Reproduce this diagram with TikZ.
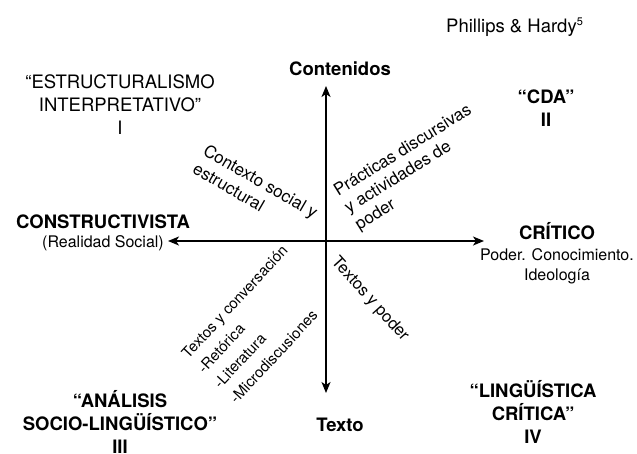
\documentclass[tikz,border=0pt]{standalone}
\usepackage{fontspec}
\setmainfont{TeX Gyre Heros}
\usetikzlibrary{arrows.meta}
\begin{document}
\begin{tikzpicture}[x=1pt,y=-1pt,
  axis/.style={line width=1.8pt,-{Stealth[length=11pt,width=9pt,inset=3pt]}},
  headb/.style={font=\fontsize{18.5}{23}\selectfont\bfseries,align=center,inner sep=0pt,anchor=north},
  headr/.style={font=\fontsize{18.5}{23}\selectfont,align=center,inner sep=0pt,anchor=north},
  subt/.style={font=\fontsize{16}{20}\selectfont,align=center,inner sep=0pt,anchor=north},
  rot/.style={font=\fontsize{17}{21}\selectfont,align=left,inner sep=0pt,anchor=north west},
  rotsm/.style={font=\fontsize{15}{22}\selectfont,align=left,inner sep=0pt,anchor=north west}]
\useasboundingbox (0,0) rectangle (637,453);
% axes
\coordinate (o) at (326,241);
\coordinate (top) at (326,86);
\coordinate (bot) at (326,393);
\coordinate (lft) at (168,241);
\coordinate (rgt) at (484,241);
\draw[axis] (o) -- (top);
\draw[axis] (o) -- (bot);
\draw[axis] (o) -- (lft);
\draw[axis] (o) -- (rgt);
% source
\node[font=\fontsize{18.5}{23}\selectfont,inner sep=0pt,anchor=base west] (src) at (446,32)
  {Phillips \& Hardy\raisebox{6.5pt}{\fontsize{11}{11}\selectfont 5}};
% axis labels
\node[headb] (cont) at (340,57) {\rule{0pt}{18pt}Contenidos};
\node[headb] (texto) at (340,413) {\rule{0pt}{18pt}Texto};
\node[headb] (constr) at (103,210) {\rule{0pt}{18pt}CONSTRUCTIVISTA};
\node[subt] (constrsub) at (103,232) {\rule{0pt}{15pt}(Realidad Social)};
\node[headb] (crit) at (557,221) {\rule{0pt}{18pt}CRÍTICO};
\node[subt] (critsub) at (557,245) {\rule{0pt}{15pt}Poder. Conocimiento.\\Ideología};
% quadrant labels
\node[headr] (q1) at (120,70) {\rule{0pt}{18pt}“ESTRUCTURALISMO\\INTERPRETATIVO”\\I};
\node[headb] (q2) at (546,85) {\rule{0pt}{18pt}“CDA”\\II};
\node[headb] (q3) at (120,389) {\rule{0pt}{18pt}“ANÁLISIS\\SOCIO-LINGÜÍSTICO”\\III};
\node[headb] (q4) at (533,379) {\rule{0pt}{18pt}“LINGÜÍSTICA\\CRÍTICA”\\IV};
% rotated notes
\node[rot,rotate=-30] (n1) at (209,142) {\rule{0pt}{14pt}Contexto social y\\estructural};
\node[rot,rotate=32,font=\fontsize{17}{20}\selectfont] (n2) at (330.6,185) {\rule{0pt}{14pt}Prácticas discursivas\\y actividades de\\poder};
\node[rot,rotate=-48,font=\fontsize{16.5}{20}\selectfont] (n4) at (341.4,252.6) {\rule{0pt}{14pt}Textos y poder};
\node[rotsm,rotate=47] (n3) at (179,350.5) {\rule{0pt}{12.5pt}Textos y conversación\\-Retórica\\-Literatura\\-Microdiscusiones};
\end{tikzpicture}
\end{document}
